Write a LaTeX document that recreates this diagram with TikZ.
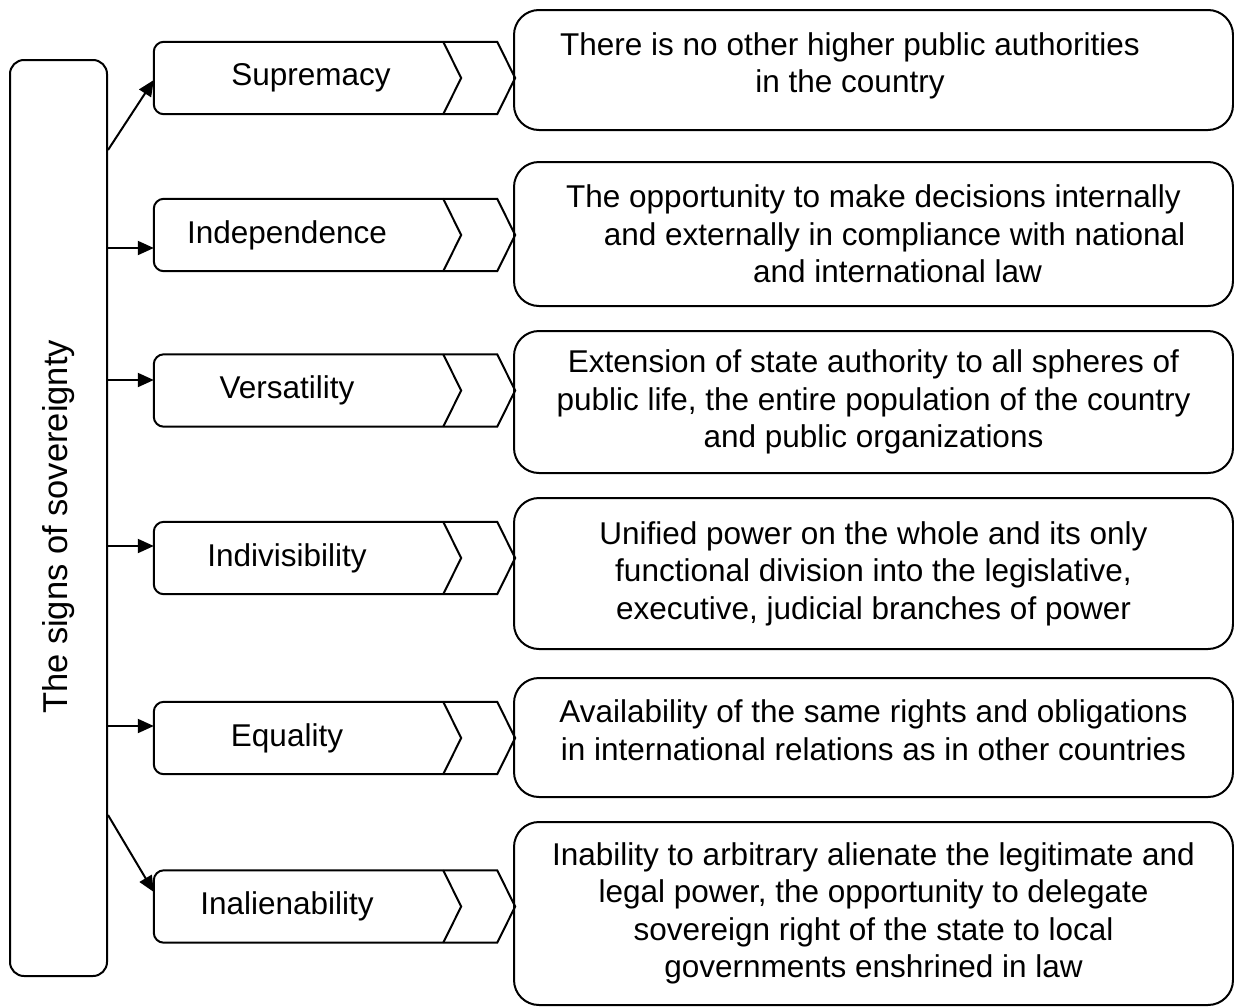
\documentclass[tikz,border=0pt]{standalone}
\usepackage{fontspec}
\setmainfont{Liberation Sans}
\usetikzlibrary{arrows.meta}
\begin{document}
\begin{tikzpicture}[x=1pt,y=-1pt,
  txt/.style={font=\fontsize{31.5}{37.5}\selectfont},
  lbox/.style={draw,line width=2pt,rounded corners=14pt,inner sep=0pt,minimum width=97pt,minimum height=916pt,font=\fontsize{34.5}{40}\selectfont},
  rowbox/.style={txt,inner sep=0pt,minimum width=289pt,minimum height=72pt},
  descbox/.style={txt,draw,line width=2pt,rounded corners=25pt,inner sep=0pt,minimum width=719pt,align=center},
  arr/.style={line width=2pt,-{Triangle[length=16pt,width=14pt]}},
  chev/.style={line width=2pt,line join=miter}]
\useasboundingbox (0,0) rectangle (1234,1007);

% left box
\node[lbox] (L) at (58.5,518) {\rotatebox{90}{The signs of sovereignty\rule{18pt}{0pt}}};

% row labels
\node[rowbox] (s1) at (298.5,78)    {\rule{25pt}{0pt}Supremacy};
\node[rowbox] (s2) at (298.5,235)   {Independence\rule{23pt}{0pt}};
\node[rowbox] (s3) at (298.5,390.5) {Versatility\rule{23pt}{0pt}};
\node[rowbox] (s4) at (298.5,558)   {Indivisibility\rule{23pt}{0pt}};
\node[rowbox] (s5) at (298.5,738)   {Equality\rule{23pt}{0pt}};
\node[rowbox] (s6) at (298.5,906.5) {Inalienability\rule{23pt}{0pt}};

\foreach \n in {s1,s2,s3,s4,s5,s6}{
  \draw[chev] (\n.north east) -- ([xshift=54pt]\n.north east) -- ([xshift=72pt]\n.east)
     -- ([xshift=54pt]\n.south east) -- (\n.south east);
  \draw[chev,rounded corners=10pt] (\n.south east) -- (\n.south west) -- (\n.north west) -- (\n.north east);
  \draw[chev] (\n.north east) -- ([xshift=18pt]\n.east) -- (\n.south east);
}

% description boxes
\node[descbox,minimum height=120pt] (d1) at (873.5,70)
  {There is no other higher public authorities\rule{47pt}{0pt}\\in the country\rule{47pt}{0pt}\rule[-14.5pt]{0pt}{1pt}};
\node[descbox,minimum height=144pt] (d2) at (873.5,234)
  {The opportunity to make decisions internally\\\rule{42pt}{0pt}and externally in compliance with national\\\rule{48pt}{0pt}and international law};
\node[descbox,minimum height=142pt] (d3) at (873.5,402)
  {Extension of state authority to all spheres of\\public life, the entire population of the country\\and public organizations};
\node[descbox,minimum height=151pt] (d4) at (873.5,573.5)
  {Unified power on the whole and its only\\functional division into the legislative,\\executive, judicial branches of power};
\node[descbox,minimum height=119pt] (d5) at (873.5,737.5)
  {Availability of the same rights and obligations\\in international relations as in other countries\rule[-15pt]{0pt}{1pt}};
\node[descbox,minimum height=183pt] (d6) at (873.5,913.5)
  {Inability to arbitrary alienate the legitimate and\\legal power, the opportunity to delegate\\sovereign right of the state to local\\governments enshrined in law};

% connectors
\draw[arr] ([yshift=368pt]L.east) -- ([yshift=-2pt]s1.west);
\draw[arr] ([yshift=270pt]L.east) -- ([yshift=-13pt]s2.west);
\draw[arr] ([yshift=138pt]L.east) -- ([yshift=10.5pt]s3.west);
\draw[arr] ([yshift=-28pt]L.east) -- ([yshift=12pt]s4.west);
\draw[arr] ([yshift=-208pt]L.east) -- ([yshift=12pt]s5.west);
\draw[arr] ([yshift=-297pt]L.east) -- ([yshift=14.5pt]s6.west);
\end{tikzpicture}
\end{document}
